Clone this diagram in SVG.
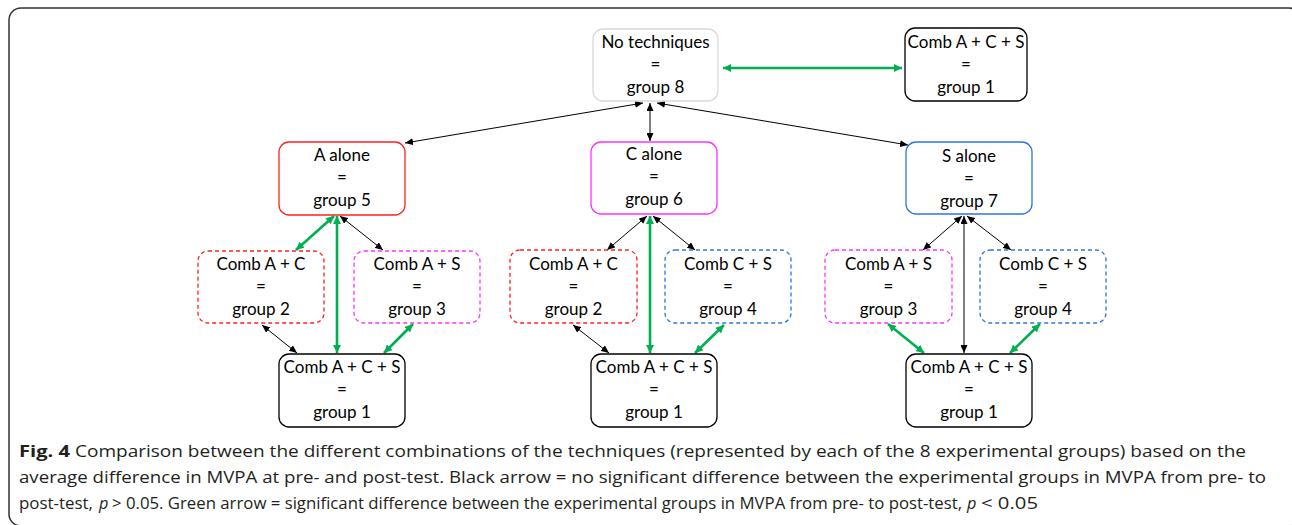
<svg xmlns="http://www.w3.org/2000/svg" width="1292" height="525" viewBox="0 0 1292 525">
<style>
.box{fill:#fff;stroke-width:1.3}
.k{stroke:#000}
.g8{stroke:#d9d9d9}
.r{stroke:#ff2020}
.m{stroke:#ff30ff}
.b{stroke:#2f74e0}
.d{stroke-dasharray:4 3}
.t{font-family:Lato,"Liberation Sans",sans-serif;font-size:17px;fill:#000;text-anchor:middle}
.ab{stroke:#000;stroke-width:1;fill:none;marker-start:url(#mk);marker-end:url(#mk)}
.ag{stroke:#00b050;stroke-width:2.6;fill:none;marker-start:url(#mg);marker-end:url(#mg)}
.cap{font-family:"Open Sans","Liberation Sans",sans-serif;font-size:16.3px;fill:#231f20}
.it{font-style:italic}
</style>
<defs>
<marker id="mk" viewBox="0 0 8 7" refX="8" refY="3.5" markerWidth="8" markerHeight="7" markerUnits="userSpaceOnUse" orient="auto-start-reverse"><path d="M0,0 L8,3.5 L0,7 z" fill="#000"/></marker>
<marker id="mg" viewBox="0 0 8 8" refX="8" refY="4" markerWidth="8" markerHeight="8" markerUnits="userSpaceOnUse" orient="auto-start-reverse"><path d="M0,0 L8,4 L0,8 z" fill="#00b050"/></marker>
</defs>
<rect x="0" y="0" width="1292" height="525" fill="#fff"/>
<rect x="9" y="8" width="1292" height="518" rx="12" fill="none" stroke="#333" stroke-width="1.5"/>

<g id="connectors">
<line class="ag" x1="723" y1="68" x2="902" y2="68"/>
<line class="ab" x1="643" y1="103" x2="405" y2="143"/>
<line class="ab" x1="650" y1="103" x2="650" y2="141"/>
<line class="ab" x1="657" y1="103" x2="908" y2="145"/>
<line class="ag" x1="334" y1="216" x2="296" y2="250"/>
<line class="ag" x1="337" y1="216" x2="337" y2="353"/>
<line class="ab" x1="340" y1="216" x2="383" y2="250"/>
<line class="ab" x1="262" y1="325" x2="297" y2="353"/>
<line class="ag" x1="413" y1="324" x2="384" y2="353"/>
<line class="ab" x1="647" y1="216" x2="607" y2="250"/>
<line class="ag" x1="650" y1="216" x2="650" y2="353"/>
<line class="ab" x1="653" y1="216" x2="695" y2="250"/>
<line class="ab" x1="573" y1="325" x2="609" y2="353"/>
<line class="ag" x1="724" y1="325" x2="695" y2="353"/>
<line class="ab" x1="962" y1="216" x2="923" y2="250"/>
<line class="ab" x1="964" y1="216" x2="964" y2="353"/>
<line class="ab" x1="967" y1="216" x2="1011" y2="250"/>
<line class="ag" x1="888" y1="324" x2="924" y2="353"/>
<line class="ag" x1="1040" y1="324" x2="1010" y2="353"/>
</g>

<g id="n8"><rect class="box g8" x="593" y="29" width="125" height="72" rx="10"/>
<text class="t" x="655.5" y="48">No techniques</text><text class="t" x="655.5" y="70">=</text><text class="t" x="655.5" y="93">group 8</text></g>
<g id="n1top"><rect class="box k" x="905" y="28" width="122" height="73" rx="10"/>
<text class="t" x="966" y="48">Comb A + C + S</text><text class="t" x="966" y="70">=</text><text class="t" x="966" y="93">group 1</text></g>

<g id="n5"><rect class="box r" x="279" y="142" width="126" height="73" rx="10"/>
<text class="t" x="342" y="161">A alone</text><text class="t" x="342" y="183">=</text><text class="t" x="342" y="206">group 5</text></g>
<g id="n2a"><rect class="box r d" x="198" y="251" width="126" height="72" rx="10"/>
<text class="t" x="261" y="270">Comb A + C</text><text class="t" x="261" y="292">=</text><text class="t" x="261" y="315">group 2</text></g>
<g id="n3a"><rect class="box m d" x="354" y="251" width="126" height="72" rx="10"/>
<text class="t" x="417" y="270">Comb A + S</text><text class="t" x="417" y="292">=</text><text class="t" x="417" y="315">group 3</text></g>
<g id="n1a"><rect class="box k" x="279" y="354" width="126" height="73" rx="10"/>
<text class="t" x="342" y="373">Comb A + C + S</text><text class="t" x="342" y="395">=</text><text class="t" x="342" y="418">group 1</text></g>

<g id="n6"><rect class="box m" x="591" y="142" width="126" height="72" rx="10"/>
<text class="t" x="654" y="160">C alone</text><text class="t" x="654" y="182">=</text><text class="t" x="654" y="205">group 6</text></g>
<g id="n2b"><rect class="box r d" x="510" y="250" width="127" height="73" rx="10"/>
<text class="t" x="573.5" y="270">Comb A + C</text><text class="t" x="573.5" y="292">=</text><text class="t" x="573.5" y="315">group 2</text></g>
<g id="n4b"><rect class="box b d" x="665" y="250" width="126" height="73" rx="10"/>
<text class="t" x="728" y="270">Comb C + S</text><text class="t" x="728" y="292">=</text><text class="t" x="728" y="315">group 4</text></g>
<g id="n1b"><rect class="box k" x="591" y="354" width="126" height="73" rx="10"/>
<text class="t" x="654" y="373">Comb A + C + S</text><text class="t" x="654" y="395">=</text><text class="t" x="654" y="418">group 1</text></g>

<g id="n7"><rect class="box b" x="906" y="142" width="126" height="72" rx="10"/>
<text class="t" x="969" y="162">S alone</text><text class="t" x="969" y="184">=</text><text class="t" x="969" y="207">group 7</text></g>
<g id="n3c"><rect class="box m d" x="825" y="250" width="127" height="73" rx="10"/>
<text class="t" x="888.5" y="270">Comb A + S</text><text class="t" x="888.5" y="292">=</text><text class="t" x="888.5" y="315">group 3</text></g>
<g id="n4c"><rect class="box b d" x="980" y="250" width="126" height="73" rx="10"/>
<text class="t" x="1043" y="270">Comb C + S</text><text class="t" x="1043" y="292">=</text><text class="t" x="1043" y="315">group 4</text></g>
<g id="n1c"><rect class="box k" x="906" y="354" width="126" height="73" rx="10"/>
<text class="t" x="969" y="373">Comb A + C + S</text><text class="t" x="969" y="395">=</text><text class="t" x="969" y="418">group 1</text></g>

<g id="caption">
<text class="cap" x="19" y="457" font-weight="bold" textLength="51" lengthAdjust="spacingAndGlyphs">Fig. 4</text>
<text class="cap" x="75" y="457" textLength="1171" lengthAdjust="spacingAndGlyphs">Comparison between the different combinations of the techniques (represented by each of the 8 experimental groups) based on the</text>
<text class="cap" x="19" y="483" textLength="1247" lengthAdjust="spacingAndGlyphs">average difference in MVPA at pre- and post-test. Black arrow = no significant difference between the experimental groups in MVPA from pre- to</text>
<text class="cap" x="19" y="509" textLength="74" lengthAdjust="spacingAndGlyphs">post-test,</text>
<text class="cap it" x="99" y="509">p</text>
<text class="cap" x="112" y="509" textLength="850" lengthAdjust="spacingAndGlyphs">&gt; 0.05. Green arrow = significant difference between the experimental groups in MVPA from pre- to post-test,</text>
<text class="cap it" x="967" y="509">p</text>
<text class="cap" x="981" y="509" textLength="57" lengthAdjust="spacingAndGlyphs">&lt; 0.05</text>
</g>
</svg>
